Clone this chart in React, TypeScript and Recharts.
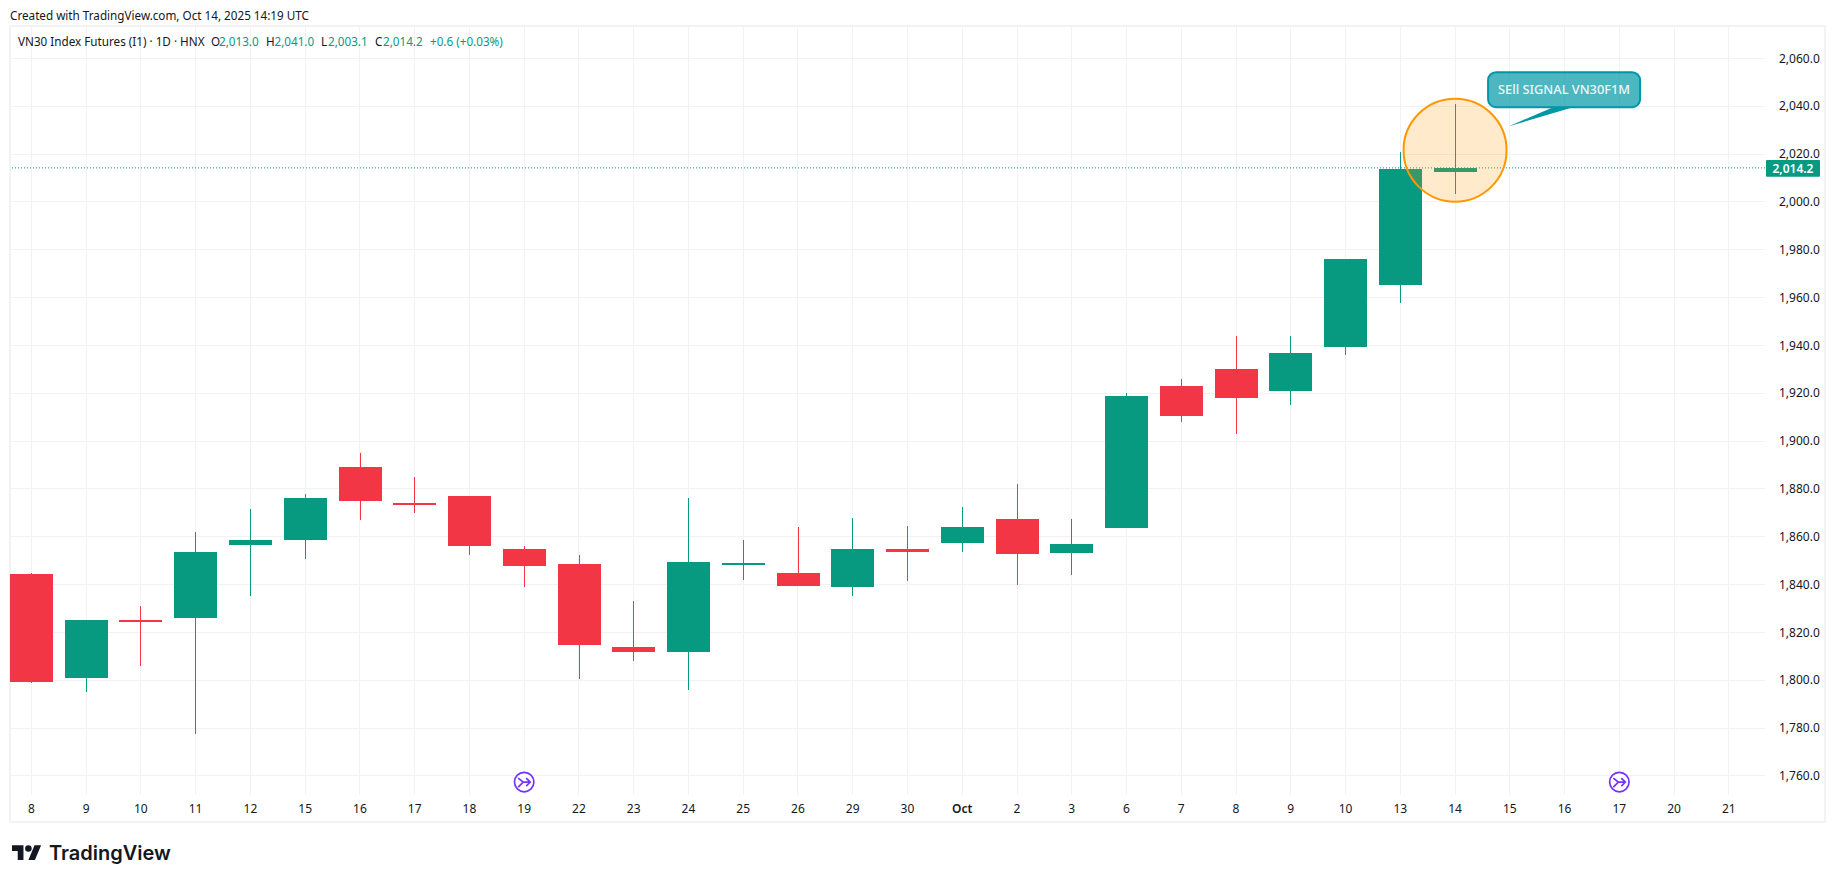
import React from "react";
import { ComposedChart, Bar, XAxis, YAxis, CartesianGrid, ReferenceLine, ReferenceDot } from "recharts";

const FONT = "'Noto Sans', sans-serif";
const SIZE = 11.7;
const AXIS_SIZE = 12;
const GREEN = "#089981";
const RED = "#F23645";
const INK = "#131722";
const VIOLET = "#7433ff";

const tickLabels = ["8","9","10","11","12","15","16","17","18","19","22","23","24","25","26","29","30","Oct","2","3","6","7","8","9","10","13","14","15","16","17","20","21"];
const opens =  [1844.5,1801.5,1825.0,1826.5,1857.0,1859.0,1889.0,1874.2,1877.0,1855.0,1848.5,1814.0,1812.0,1848.8,1845.0,1839.5,1855.0,1857.8,1867.5,1853.5,1864.0,1923.0,1930.3,1921.5,1939.6,1965.5,2013.0];
const closes = [1799.5,1825.0,1824.7,1853.4,1858.8,1876.0,1875.5,1873.9,1856.4,1848.0,1815.0,1812.0,1849.5,1849.2,1839.7,1855.0,1854.0,1864.0,1853.0,1857.0,1919.0,1910.7,1918.5,1936.7,1976.3,2013.6,2014.2];
const highs =  [1845.0,1825.0,1831.0,1862.0,1871.6,1878.0,1895.0,1885.0,1877.0,1856.0,1852.5,1833.0,1876.0,1858.5,1864.0,1868.0,1864.5,1872.5,1882.0,1867.5,1920.0,1926.0,1944.0,1944.0,1976.3,2021.0,2041.0];
const lows =   [1799.0,1795.0,1806.0,1777.6,1835.0,1850.5,1867.0,1870.0,1852.5,1839.0,1800.5,1808.0,1795.7,1842.0,1839.5,1835.0,1841.5,1853.4,1840.0,1844.0,1863.7,1908.0,1903.0,1915.0,1936.0,1957.7,2003.1];
const priceTicks = [1760,1780,1800,1820,1840,1860,1880,1900,1920,1940,1960,1980,2000,2020,2040,2060];
const LAST_PRICE = 2014.2;
const MARKER_SLOTS = [9, 29];
const SIGNAL_SLOT = 26;
const SIGNAL_CENTER = 2021.6;
const MARKER_LEVEL = 1757.4;
const X_DOMAIN = [-0.39, 31.66];
const Y_DOMAIN = [1752, 2073.1];

const rows = opens.map((o, i) => ({
  idx: i,
  open: o,
  close: closes[i],
  high: highs[i],
  low: lows[i],
  range: [lows[i], highs[i]],
}));

const fmtPrice = (v: number) => v.toLocaleString("en-US", { minimumFractionDigits: 1, maximumFractionDigits: 1 });

function Candle(props: any) {
  const { x, y, width, height, payload } = props;
  const { open, close, high, low } = payload;
  const py = (v: number) => y + ((high - v) / (high - low)) * height;
  const up = close >= open;
  const color = up ? GREEN : RED;
  const cx = Math.floor(x + width / 2) + 0.5;
  const top = Math.round(py(Math.max(open, close)));
  const bot = Math.round(py(Math.min(open, close))) + 1;
  return (
    <g>
      <line x1={cx} x2={cx} y1={Math.round(y)} y2={Math.round(y + height)} stroke={color} strokeWidth={1} />
      <rect x={Math.round(cx - 21.5)} y={top} width={43} height={Math.max(bot - top, 2)} fill={color} />
    </g>
  );
}

function XTick(props: any) {
  const { x, y, payload } = props;
  const label = tickLabels[payload.value];
  return (
    <text x={x} y={y} dy={10} textAnchor="middle" fontFamily={FONT} fontSize={AXIS_SIZE} fontWeight={label === "Oct" ? 600 : 400} fill={INK}>
      {label}
    </text>
  );
}

function SignalShape(props: any) {
  const { cx, cy } = props;
  const bx = cx + 33;
  const by = cy - 78;
  return (
    <g>
      <circle cx={cx} cy={cy} r={51.5} fill="rgba(255,152,0,0.2)" stroke="#ff9800" strokeWidth={2} />
      <path d={`M${bx + 65} ${by + 35} L${cx + 54} ${cy - 24} L${bx + 85} ${by + 35} Z`} fill="#0097a7" />
      <rect x={bx} y={by} width={152} height={35} rx={8} fill="rgba(0,151,167,0.7)" stroke="#0097a7" strokeWidth={2} />
      <text x={bx + 76} y={by + 22} textAnchor="middle" fontFamily={FONT} fontSize={12.8} fontWeight={500} fill="#eef9fa">
        SEll SIGNAL VN30F1M
      </text>
    </g>
  );
}

function MarkerShape(props: any) {
  const { cx, cy } = props;
  return (
    <g fill="none" stroke={VIOLET} strokeWidth={1.7}>
      <circle cx={cx} cy={cy} r={9.7} fill="#fff" />
      <path d={`M${cx - 6} ${cy - 4} L${cx - 1} ${cy} L${cx - 6} ${cy + 5} M${cx - 1} ${cy} H${cx + 6} M${cx + 2} ${cy - 4} L${cx + 6} ${cy} L${cx + 2} ${cy + 4}`} />
    </g>
  );
}

function PriceTag(props: any) {
  const { cx, cy } = props;
  return (
    <g>
      <rect x={cx + 1} y={cy - 7.8} width={54} height={16.7} rx={1} fill={GREEN} />
      <text x={cx + 7.5} y={cy + 4.7} fontFamily={FONT} fontSize={AXIS_SIZE} fontWeight={600} fill="#fff">
        {fmtPrice(LAST_PRICE)}
      </text>
    </g>
  );
}

const abs = (left: number, top: number, color = INK, size = SIZE): React.CSSProperties => ({
  position: "absolute",
  left,
  top,
  color,
  fontSize: size,
  fontFamily: FONT,
  lineHeight: "14px",
  whiteSpace: "nowrap",
});

export default function App() {
  return (
    <div style={{ position: "absolute", left: 0, top: 0, width: 1835, height: 883, background: "#fff", overflow: "hidden" }}>
      <div style={{ position: "absolute", left: 9, top: 25, width: 1813, height: 794, border: "2px solid #f3f3f3" }} />
      <div style={abs(10, 8)}>Created with TradingView.com, Oct 14, 2025 14:19 UTC</div>
      <div style={{ position: "absolute", left: 0, top: 0 }}>
        <ComposedChart width={1835} height={883} data={rows} margin={{ top: 27, right: 10, bottom: 60, left: 10 }}>
          <CartesianGrid stroke="#f1f2f4" strokeWidth={1} shapeRendering="crispEdges" syncWithTicks />
          <XAxis dataKey="idx" type="number" scale="linear" domain={X_DOMAIN} ticks={tickLabels.map((_, i) => i)} interval={0} height={28} axisLine={false} tickLine={false} tick={<XTick />} />
          <YAxis orientation="right" type="number" domain={Y_DOMAIN} ticks={priceTicks} interval={0} width={60} axisLine={false} tickLine={false} tickMargin={8} tickFormatter={fmtPrice} tick={{ fill: INK, fontSize: AXIS_SIZE, fontFamily: FONT }} />
          <ReferenceDot x={SIGNAL_SLOT} y={SIGNAL_CENTER} r={52} ifOverflow="visible" shape={<SignalShape />} />
          {MARKER_SLOTS.map((s) => (
            <ReferenceDot key={s} x={s} y={MARKER_LEVEL} r={10} ifOverflow="visible" shape={<MarkerShape />} />
          ))}
          <Bar dataKey="range" barSize={43} isAnimationActive={false} shape={<Candle />} />
          <ReferenceLine y={LAST_PRICE} stroke={GREEN} strokeDasharray="1 2" strokeWidth={1} />
          <ReferenceDot x={X_DOMAIN[1]} y={LAST_PRICE} r={1} ifOverflow="visible" shape={<PriceTag />} />
        </ComposedChart>
      </div>
      <div style={abs(18, 34)}>VN30 Index Futures (I1) · 1D · HNX</div>
      <div style={abs(211, 34)}>O</div><div style={abs(219, 34, GREEN)}>2,013.0</div>
      <div style={abs(266, 34)}>H</div><div style={abs(274.5, 34, GREEN)}>2,041.0</div>
      <div style={abs(321, 34)}>L</div><div style={abs(328, 34, GREEN)}>2,003.1</div>
      <div style={abs(375, 34)}>C</div><div style={abs(383, 34, GREEN)}>2,014.2</div>
      <div style={abs(430, 34, GREEN)}>+0.6 (+0.03%)</div>
      <svg style={{ position: "absolute", left: 12, top: 842 }} width={29.5} height={23} viewBox="0 0 36 28" fill="#131722">
        <path d="M14 22H7V11H0V4h14v18zM28 22h-8l7.5-18h8L28 22z" />
        <circle cx="20" cy="8" r="4" />
      </svg>
      <div style={{ position: "absolute", left: 49, top: 839.5, fontFamily: "Inter, sans-serif", fontWeight: 600, fontSize: 20, lineHeight: "26px", color: "#131722" }}>TradingView</div>
    </div>
  );
}
